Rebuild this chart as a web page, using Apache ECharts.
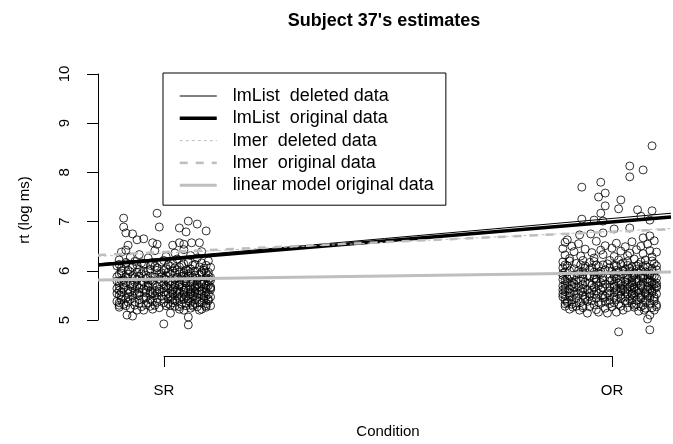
<!DOCTYPE html>
<html>
<head>
<meta charset="utf-8">
<script src="https://cdn.jsdelivr.net/npm/echarts@6/dist/echarts.min.js"></script>
<style>
  html, body { margin: 0; padding: 0; background: #fff; }
  #chart { width: 673px; height: 444px; }
</style>
</head>
<body>
<div id="chart"></div>
<script>
// conditions are coded -1 (SR) and 1 (OR)
const conditions = ['SR', 'OR']
const conditionCodes = [-1, 1]
const yTicks = [5, 6, 7, 8, 9, 10]

const srPoints = [
  [-.18,7.07],[-.03,7.17],[-.02,6.89],[-.18,6.89],[-.17,6.77],[-.14,6.75],[.07,6.87],[.11,7.01],[.15,6.95],
  [.10,6.79],[.19,6.81],[-.12,6.63],[-.09,6.65],[-.05,6.57],[-.03,6.54],[-.17,6.42],[-.16,6.52],
  [.04,6.52],[.07,6.57],[.09,6.54],[.125,6.57],[.16,6.57],
  [.00,4.92],[.11,4.90],[.03,5.14],[.11,5.06],[-.165,5.10],[-.14,5.08],[-.09,5.20],[-.05,5.22],
  [-.20,5.30],[.19,5.26],[.16,5.20],[.07,5.22],[.19,5.49],[.19,5.96],
  [-.19,6.38],[-.11,6.33],[-.04,6.41],[.05,6.36],[.12,6.31],[.17,6.39],[-.15,6.28],[.01,6.29],[.09,6.43],
  [-.20,6.22],[-.13,6.19],[-.07,6.26],[.00,6.21],[.06,6.24],[.11,6.18],[.15,6.26],[.20,6.20],[-.17,6.14],
  [-.21,6.10],[-.14,6.07],[-.09,6.13],[-.03,6.06],[.02,6.12],[.07,6.08],[.13,6.11],[.18,6.05],[-.05,6.16],[.10,6.02],
  [-.19,6.00],[-.12,5.97],[-.06,6.03],[-.01,5.96],[.04,6.00],[.09,5.95],[.14,5.99],[.20,5.97],[-.16,5.93],[.16,5.92],[-.08,5.91],[.01,5.90],
  [-.21,5.88],[-.13,5.86],[-.04,5.87],[.06,5.86],[.11,5.89],[.19,5.85],[-.18,5.82],[-.10,5.80],[-.02,5.83],[.03,5.79],[.08,5.82],[.13,5.80],[.17,5.78],
  [-.20,5.76],[-.15,5.73],[-.07,5.75],[.00,5.74],[.05,5.71],[.10,5.75],[.15,5.72],[.20,5.70],[-.12,5.69],[-.03,5.68],[.08,5.67],[.18,5.66],
  [-.21,5.64],[-.16,5.62],[-.09,5.63],[-.04,5.60],[.02,5.64],[.06,5.61],[.12,5.63],[.16,5.60],[.21,5.62],[-.19,5.57],[-.11,5.56],[.00,5.57],[.09,5.56],[.14,5.55],
  [-.20,5.51],[-.14,5.49],[-.06,5.52],[-.01,5.48],[.04,5.53],[.08,5.47],[.13,5.50],[.18,5.48],[-.17,5.44],[-.09,5.43],[.02,5.43],[.11,5.44],[.20,5.42],
  [-.21,5.38],[-.13,5.37],[-.05,5.39],[.00,5.35],[.06,5.38],[.10,5.34],[.16,5.37],[-.18,5.32],[-.08,5.31],[.03,5.30],[.13,5.31],[.19,5.33],
  [-.20,5.26],[-.15,5.24],[-.10,5.27],[-.02,5.25],[.07,5.27],[.12,5.24],[.17,5.22],[-.12,5.20],[.09,5.20],
  [-.17,6.17],[-.10,6.16],[-.01,6.18],[.04,6.15],[.09,6.14],[.17,6.16],
  [-.19,6.05],[-.11,6.03],[-.04,6.09],[.01,6.04],[.05,6.06],[.12,6.04],[.16,6.08],[.21,6.07],
  [-.15,5.98],[-.09,5.99],[-.03,6.01],[.02,5.97],[.07,5.98],[.12,5.96],[.17,5.98],
  [-.20,5.93],[-.14,5.90],[-.06,5.89],[.03,5.92],[.09,5.90],[.14,5.91],[.20,5.90],
  [-.16,5.85],[-.08,5.84],[.00,5.85],[.05,5.83],[.10,5.84],[.15,5.85],[.21,5.81],
  [-.21,5.79],[-.13,5.77],[-.05,5.79],[.02,5.77],[.07,5.78],[.12,5.77],[.18,5.74],
  [-.18,5.71],[-.10,5.72],[-.05,5.72],[.03,5.70],[.12,5.69],[.16,5.68],[.21,5.67],
  [-.14,5.66],[-.07,5.67],[.00,5.65],[.05,5.66],[.10,5.65],[.19,5.64],
  [-.20,5.60],[-.13,5.59],[-.06,5.58],[.04,5.59],[.09,5.60],[.14,5.58],[.19,5.57],
  [-.16,5.54],[-.08,5.55],[-.03,5.55],[.02,5.54],[.07,5.55],[.12,5.53],[.17,5.52],
  [-.19,5.48],[-.11,5.50],[-.04,5.49],[.06,5.49],[.10,5.48],[.15,5.46],[.21,5.47],
  [-.15,5.42],[-.06,5.41],[.00,5.42],[.05,5.40],[.09,5.42],[.14,5.41],[.18,5.40],
  [-.20,5.35],[-.11,5.34],[-.03,5.36],[.04,5.35],[.12,5.36],[.17,5.34],
  [-.17,5.29],[-.06,5.28],[.01,5.29],[.10,5.29],[.15,5.27],[.21,5.29],
  [-.20,6.13],[-.12,6.12],[-.06,6.11],[.03,6.09],[.08,6.11],[.14,6.13],[.19,6.11],
  [-.16,6.01],[-.07,6.00],[.00,6.01],[.06,6.02],[.11,6.00],[.18,6.01],
  [-.19,5.95],[-.10,5.94],[-.02,5.93],[.05,5.95],[.11,5.93],[.17,5.95],
  [-.17,5.88],[-.11,5.89],[-.01,5.88],[.08,5.88],[.13,5.87],[.21,5.86],
  [-.19,5.80],[-.12,5.82],[-.06,5.81],[.01,5.82],[.09,5.79],[.15,5.80],[.20,5.79],
  [-.17,5.76],[-.09,5.77],[-.01,5.77],[.07,5.73],[.13,5.75],[.17,5.73],
  [-.20,5.69],[-.14,5.70],[-.07,5.70],[.01,5.69],[.07,5.71],[.14,5.68],[.19,5.70],
  [-.18,5.65],[-.11,5.64],[-.02,5.62],[.04,5.62],[.10,5.62],[.14,5.64],[.21,5.65],
  [-.15,5.58],[-.08,5.60],[-.02,5.58],[.06,5.57],[.12,5.57],[.17,5.58],
  [-.21,5.54],[-.12,5.53],[-.05,5.54],[.01,5.51],[.09,5.52],[.15,5.53],[.20,5.52],
  [-.16,5.47],[-.08,5.46],[.03,5.47],[.07,5.45],[.13,5.47],[.18,5.44],
  [-.19,5.41],[-.11,5.41],[-.03,5.43],[.04,5.41],[.11,5.39],[.20,5.39],
  [-.16,5.36],[-.07,5.35],[.02,5.33],[.08,5.32],[.14,5.34],
  [-.13,5.30],[-.04,5.30],[.05,5.28],[.13,5.28],[.19,5.29]
]

const orPoints = [
  [.19,8.54],[.09,8.13],[.15,8.05],[.09,7.91],[-.125,7.70],[-.04,7.80],[-.02,7.58],[-.05,7.50],[.05,7.44],
  [-.02,7.32],[.04,7.26],[-.04,7.17],[.125,7.24],[.19,7.22],[-.125,7.05],[-.07,7.03],[-.03,7.01],[.14,7.11],
  [.18,7.03],[.02,6.85],[.09,6.87],[-.135,6.73],[-.085,6.75],[-.03,6.77],[-.19,6.63],[.18,6.71],[.15,6.67],
  [.04,4.76],[.18,4.80],[-.135,5.20],[-.10,5.14],[-.05,5.16],[-.01,5.14],[.03,5.16],
  [.11,5.30],[.155,5.20],[.18,5.10],[.17,5.02],[-.19,5.35],[-.165,5.26],
  [-.20,6.58],[-.14,6.55],[-.06,6.60],[.03,6.56],[.10,6.59],[.17,6.54],[.20,6.61],[-.17,6.50],[-.02,6.51],[.07,6.49],[.14,6.50],
  [-.21,6.45],[-.11,6.44],[-.04,6.42],[.01,6.46],[.05,6.40],[.12,6.43],[.18,6.41],[-.16,6.39],[-.08,6.37],[.09,6.36],[.15,6.35],[.21,6.38],
  [-.20,6.32],[-.13,6.30],[-.03,6.33],[.02,6.29],[.08,6.31],[.19,6.28],[-.18,6.25],[-.07,6.26],[.11,6.24],[.16,6.22],[-.12,6.21],[.04,6.22],
  [-.21,6.18],[-.15,6.15],[-.09,6.17],[-.01,6.14],[.06,6.16],[.13,6.13],[.20,6.15],[-.19,6.10],[-.05,6.09],[.03,6.10],[.10,6.08],[.17,6.07],
  [-.16,6.04],[-.11,6.05],[-.02,6.02],[.07,6.03],[.14,6.01],[.21,6.02],[-.20,5.98],[-.07,5.97],[.01,5.99],[.11,5.96],[.18,5.95],[-.14,5.94],
  [-.21,5.91],[-.10,5.90],[-.04,5.93],[.04,5.90],[.08,5.92],[.15,5.89],[.20,5.88],[-.17,5.86],[-.07,5.85],[.00,5.86],[.12,5.84],[.17,5.83],
  [-.20,5.80],[-.13,5.79],[-.03,5.81],[.05,5.78],[.10,5.80],[.19,5.77],[-.16,5.74],[-.09,5.75],[.02,5.73],[.08,5.74],[.14,5.72],[.21,5.75],
  [-.21,5.69],[-.14,5.68],[-.05,5.70],[.00,5.67],[.06,5.69],[.11,5.66],[.17,5.68],[-.18,5.63],[-.10,5.62],[.03,5.62],[.13,5.61],[.20,5.64],
  [-.20,5.58],[-.12,5.57],[-.06,5.59],[-.01,5.55],[.07,5.57],[.10,5.54],[.16,5.56],[.21,5.53],[-.16,5.52],[-.03,5.51],[.05,5.50],[.14,5.50],
  [-.21,5.47],[-.11,5.46],[-.06,5.44],[.02,5.46],[.09,5.43],[.18,5.45],[-.17,5.41],[-.08,5.39],[.00,5.40],[.12,5.40],[.20,5.38],[-.13,5.36],
  [-.20,5.33],[-.04,5.34],[.04,5.32],[.08,5.35],[.15,5.30],[-.15,5.28],[-.09,5.27],[.01,5.27],[.11,5.26],[.19,5.25],
  [-.18,5.22],[-.06,5.21],[.06,5.20],[.13,5.18],[.20,5.20],
  [-.18,6.20],[-.07,6.19],[.00,6.21],[.08,6.19],[.14,6.18],[.19,6.20],
  [-.13,6.12],[-.03,6.12],[.05,6.13],[.12,6.10],[.16,6.11],[-.21,6.06],[-.08,6.06],[.00,6.06],[.09,6.05],[.19,6.04],
  [-.18,6.00],[-.12,5.98],[-.04,5.99],[.04,5.97],[.09,5.99],[.16,5.98],[-.16,5.91],[-.07,5.92],[.02,5.93],[.11,5.91],[.18,5.92],
  [-.19,5.84],[-.12,5.85],[-.03,5.86],[.03,5.84],[.08,5.86],[.15,5.85],[.21,5.85],
  [-.17,5.78],[-.06,5.77],[.00,5.79],[.07,5.77],[.12,5.78],[.17,5.76],
  [-.20,5.72],[-.12,5.72],[-.02,5.73],[.05,5.72],[.10,5.71],[.19,5.71],
  [-.16,5.66],[-.07,5.66],[.02,5.66],[.08,5.64],[.15,5.65],[.21,5.66],
  [-.21,5.61],[-.13,5.60],[-.04,5.62],[.06,5.61],[.10,5.60],[.17,5.61],
  [-.18,5.55],[-.09,5.54],[.02,5.56],[.08,5.53],[.13,5.55],[.19,5.55],
  [-.20,5.50],[-.12,5.50],[-.07,5.52],[.00,5.51],[.11,5.50],[.17,5.49],
  [-.15,5.45],[-.03,5.45],[.05,5.44],[.14,5.44],[.20,5.43],
  [-.19,5.38],[-.10,5.38],[-.02,5.37],[.07,5.38],[.16,5.37],
  [-.17,5.32],[-.07,5.31],[.00,5.33],[.12,5.32],[.21,5.31],
  [-.12,5.25],[-.02,5.24],[.08,5.25],[.16,5.24],
  [-.20,6.12],[-.11,6.10],[-.06,6.12],[.02,6.11],[.08,6.11],[.15,6.09],[.21,6.10],
  [-.14,6.00],[-.09,6.02],[.03,6.01],[.06,6.00],[.12,6.03],[.19,6.00],
  [-.21,5.95],[-.12,5.93],[-.05,5.95],[.06,5.94],[.13,5.95],[.17,5.92],
  [-.18,5.89],[-.09,5.88],[.02,5.89],[.10,5.87],[.14,5.88],[.19,5.90],
  [-.21,5.82],[-.15,5.81],[-.06,5.83],[.01,5.81],[.08,5.82],[.13,5.80],[.18,5.80],
  [-.19,5.76],[-.11,5.77],[-.04,5.76],[.04,5.75],[.10,5.76],[.15,5.77],[.20,5.73],
  [-.17,5.70],[-.08,5.71],[.02,5.69],[.09,5.68],[.14,5.69],[.21,5.69],
  [-.20,5.64],[-.12,5.64],[-.03,5.65],[.05,5.64],[.11,5.63],[.18,5.63],
  [-.16,5.58],[-.08,5.60],[.00,5.59],[.05,5.58],[.12,5.58],[.19,5.59],
  [-.21,5.53],[-.14,5.54],[-.05,5.54],[.04,5.53],[.10,5.52],[.16,5.53],
  [-.18,5.48],[-.09,5.48],[-.02,5.48],[.07,5.47],[.14,5.47],[.20,5.47],
  [-.20,5.42],[-.11,5.42],[.03,5.42],[.10,5.41],[.16,5.41],
  [-.15,5.35],[-.05,5.36],[.02,5.35],[.10,5.34],[.18,5.34],
  [-.20,5.28],[-.12,5.29],[.05,5.28],[.14,5.27],[.21,5.27]
]

// fitted values at SR and OR for each model
const fitNames = ['lmList  deleted data', 'lmList  original data', 'lmer  deleted data', 'lmer  original data', 'linear model original data']
const fitSR = [6.26, 6.23, 6.36, 6.38, 5.83]
const fitOR = [7.06, 6.99, 6.80, 6.79, 5.96]
const fitStyles = [
  { color: '#000000', width: 1, type: 'solid' },
  { color: '#000000', width: 3.5, type: 'solid' },
  { color: '#bebebe', width: 1, type: [3, 3] },
  { color: '#bebebe', width: 2.5, type: [8, 8] },
  { color: '#bebebe', width: 3, type: 'solid' }
]

const xMin = -1.295
const xMax = 1.275
const font = 'Liberation Sans, Arial, Helvetica, sans-serif'

const chart = echarts.init(document.getElementById('chart'))

function fitLine(i) {
  const slope = (fitOR[i] - fitSR[i]) / (conditionCodes[1] - conditionCodes[0])
  const at = x => fitSR[i] + (x - conditionCodes[0]) * slope
  return [[xMin, at(xMin)], [xMax, at(xMax)]]
}

const pointStyle = {
  color: 'rgba(0,0,0,0)',
  borderColor: '#000',
  borderWidth: 1
}

const series = [
  {
    type: 'scatter',
    xAxisIndex: 0,
    yAxisIndex: 0,
    data: srPoints.map(p => [conditionCodes[0] + p[0], p[1]]),
    symbol: 'circle',
    symbolSize: 8,
    itemStyle: pointStyle,
    clip: false,
    silent: true
  },
  {
    type: 'scatter',
    xAxisIndex: 0,
    yAxisIndex: 0,
    data: orPoints.map(p => [conditionCodes[1] + p[0], p[1]]),
    symbol: 'circle',
    symbolSize: 8,
    itemStyle: pointStyle,
    clip: false,
    silent: true
  }
]

fitNames.forEach((name, i) => {
  series.push({
    name: name,
    type: 'line',
    xAxisIndex: 0,
    yAxisIndex: 0,
    data: fitLine(i),
    symbol: 'none',
    lineStyle: fitStyles[i],
    itemStyle: { color: fitStyles[i].color },
    silent: true
  })
})

const option = {
  animation: false,
  backgroundColor: '#fff',
  textStyle: { fontFamily: font, color: '#000' },
  title: {
    text: "Subject 37's estimates",
    left: 379,
    top: 7,
    textAlign: 'center',
    textStyle: { fontFamily: font, fontSize: 18, fontWeight: 'bold', color: '#000' }
  },
  legend: {
    data: fitNames,
    orient: 'vertical',
    left: 163,
    top: 73,
    padding: [14, 12, 11, 15],
    itemWidth: 37,
    itemHeight: 14,
    itemGap: 4.3,
    borderColor: '#000',
    borderWidth: 1,
    borderRadius: 0,
    backgroundColor: '#fff',
    selectedMode: false,
    itemStyle: { opacity: 0 },
    lineStyle: { width: 'inherit', type: 'inherit', color: 'inherit' },
    textStyle: { fontFamily: font, fontSize: 18, lineHeight: 18, color: '#000', padding: [0, 0, 0, 11] }
  },
  grid: [
    { left: 98, right: 2, top: 74, bottom: 124 },
    { left: 164, right: 61, top: 330, bottom: 88 }
  ],
  xAxis: [
    {
      gridIndex: 0,
      type: 'value',
      min: xMin,
      max: xMax,
      show: false
    },
    {
      gridIndex: 1,
      type: 'category',
      data: conditions,
      boundaryGap: false,
      position: 'bottom',
      axisLine: { onZero: false, lineStyle: { color: '#000', width: 1 } },
      axisTick: { length: 11, lineStyle: { color: '#000' } },
      axisLabel: { margin: 27, fontSize: 15, color: '#000', fontFamily: font },
      name: 'Condition',
      nameLocation: 'middle',
      nameGap: 68,
      nameTextStyle: { fontSize: 15, color: '#000', fontFamily: font },
      splitLine: { show: false }
    }
  ],
  yAxis: [
    {
      gridIndex: 0,
      type: 'value',
      min: yTicks[0],
      max: yTicks[yTicks.length - 1],
      interval: 1,
      axisLine: { show: true, onZero: false, lineStyle: { color: '#000', width: 1 } },
      axisTick: { show: true, length: 11, lineStyle: { color: '#000' } },
      axisLabel: { rotate: 90, margin: 26, fontSize: 15, color: '#000', fontFamily: font },
      splitLine: { show: false },
      name: 'rt (log ms)',
      nameLocation: 'middle',
      nameRotate: 90,
      nameGap: 66,
      nameTextStyle: { fontSize: 15, color: '#000', fontFamily: font, padding: [0, 26, 0, 0] }
    },
    {
      gridIndex: 1,
      type: 'value',
      show: false,
      axisLine: { show: false },
      axisTick: { show: false },
      axisLabel: { show: false },
      splitLine: { show: false }
    }
  ],
  series: series
}

chart.setOption(option)
</script>
</body>
</html>
